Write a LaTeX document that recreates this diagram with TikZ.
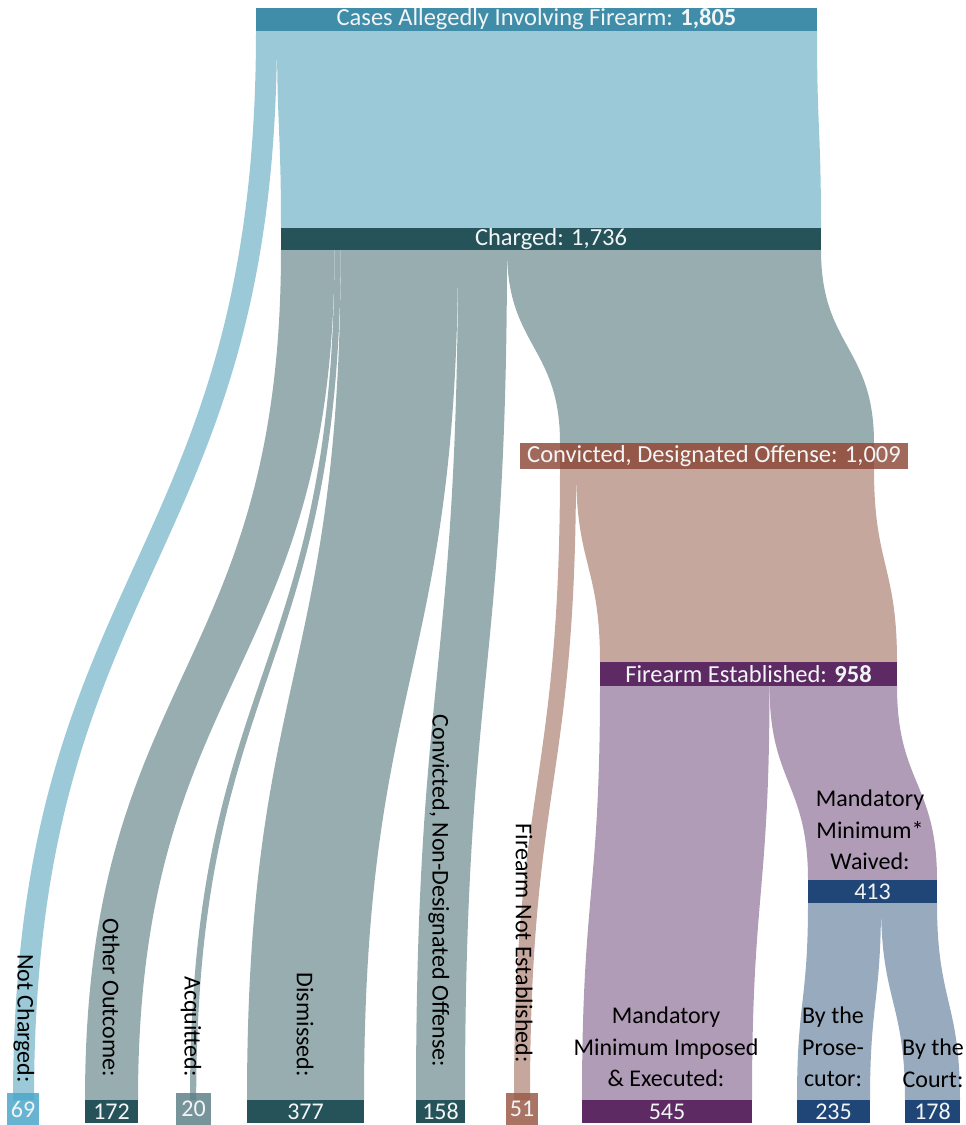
\documentclass[tikz,border=0pt]{standalone}
\usepackage{fontspec}
\setmainfont{Carlito}
\definecolor{topbar}{HTML}{3F8DA9}
\definecolor{lblue}{HTML}{9BC9D7}
\definecolor{chbar}{HTML}{255359}
\definecolor{gteal}{HTML}{97ADB0}
\definecolor{cdbar}{HTML}{8A4433}
\definecolor{pink}{HTML}{C5A79D}
\definecolor{febar}{HTML}{5D2A64}
\definecolor{purp}{HTML}{B09CB6}
\definecolor{navy}{HTML}{1F4677}
\definecolor{bgrey}{HTML}{98AABE}
\definecolor{nbox}{HTML}{4BA7CA}
\definecolor{abox}{HTML}{5F8189}
\definecolor{fbox}{HTML}{9A5C48}
\definecolor{bartext}{HTML}{F2F5F5}
\newcommand\rib[7]{\fill[#1] (#2,#4) .. controls (#2,{(#4+#7)/2}) and (#5,{(#4+#7)/2}) .. (#5,#7) -- (#6,#7) .. controls (#6,{(#4+#7)/2}) and (#3,{(#4+#7)/2}) .. (#3,#4) -- cycle;}
\tikzset{
  barbox/.style={inner sep=0pt, outer sep=0pt, text=bartext, font=\fontsize{24.5}{28}\selectfont},
  numbox/.style={inner sep=0pt, outer sep=0pt, text=bartext, font=\fontsize{24}{28}\selectfont},
  vlabel/.style={rotate=-90, anchor=east, inner sep=0pt, font=\fontsize{24}{28}\selectfont},
  mlabel/.style={align=center, inner sep=0pt, font=\fontsize{24}{31.5}\selectfont}
}
\begin{document}
\begin{tikzpicture}[x=1pt,y=-1pt]
\useasboundingbox (0,0) rectangle (966,1125);
% ribbons
\rib{lblue}{256}{277}{31}{13}{34}{1100}
\rib{lblue}{277}{817}{31}{281}{821}{228}
\rib{gteal}{281}{334.5}{250}{85}{138}{1100}
\rib{gteal}{334.5}{340.7}{250}{190}{196.2}{1100}
\rib{gteal}{340.7}{458}{250}{247}{364}{1100}
\rib{gteal}{458}{507}{250}{416}{465}{1100}
\rib{gteal}{507}{821}{250}{560}{874}{443}
\fill[pink] (560,443) rectangle (874,469);
\rib{pink}{560}{576}{469}{514}{530}{1100}
\rib{pink}{576}{874}{469}{600}{897}{662}
\rib{purp}{600}{769.5}{686}{582}{752}{1100}
\rib{purp}{769.5}{897}{686}{808}{937}{880}
\rib{bgrey}{808}{881}{903}{797}{870}{1100}
\rib{bgrey}{881}{937}{903}{905}{960}{1100}
% bars
\node[barbox, fill=topbar, minimum width=561pt, minimum height=23pt] (cases) at (536.5,19.5) {Cases Allegedly Involving Firearm: \textbf{1,805}};
\node[barbox, fill=chbar, minimum width=540pt, minimum height=22pt] (charged) at (551,239) {Charged: 1,736};
\node[barbox, fill=cdbar, fill opacity=0.8, text opacity=1, minimum width=388pt, minimum height=26pt] (cd) at (714,456) {Convicted, Designated Offense: 1,009};
\node[barbox, fill=febar, minimum width=297pt, minimum height=24pt] (fe) at (748.5,674) {Firearm Established: \textbf{958}};
\node[numbox, fill=navy, minimum width=129pt, minimum height=23pt] (waived) at (872.5,891.5) {413};
\node[numbox, fill=nbox, fill opacity=0.85, text opacity=1, minimum width=32pt, minimum height=32pt] (b69) at (23,1109) {69};
\node[numbox, fill=chbar, minimum width=53pt, minimum height=23pt] (b172) at (111.5,1111.5) {172};
\node[numbox, fill=abox, fill opacity=0.85, text opacity=1, minimum width=35pt, minimum height=32pt] (b20) at (193.5,1109) {20};
\node[numbox, fill=chbar, minimum width=117pt, minimum height=23pt] (b377) at (305.5,1111.5) {377};
\node[numbox, fill=chbar, minimum width=49pt, minimum height=23pt] (b158) at (440.5,1111.5) {158};
\node[numbox, fill=fbox, fill opacity=0.85, text opacity=1, minimum width=32pt, minimum height=32pt] (b51) at (522,1109) {51};
\node[numbox, fill=febar, minimum width=170pt, minimum height=23pt] (b545) at (667,1111.5) {545};
\node[numbox, fill=navy, minimum width=73pt, minimum height=23pt] (b235) at (833.5,1111.5) {235};
\node[numbox, fill=navy, minimum width=55pt, minimum height=23pt] (b178) at (932.5,1111.5) {178};
% labels
\node[vlabel] (lnc) at (24,1083) {Not Charged:};
\node[vlabel] (loo) at (111,1077) {Other Outcome:};
\node[vlabel] (lacq) at (191,1077) {Acquitted:};
\node[vlabel] (ldis) at (305,1077) {Dismissed:};
\node[vlabel] (lcnd) at (439,1067) {Convicted, Non-Designated Offense:};
\node[vlabel] (lfne) at (524,1063) {Firearm Not Established:};
\node[mlabel] (lwaived) at (870,830) {Mandatory\\Minimum*\\Waived:};
\node[mlabel] (lmmi) at (666,1047) {Mandatory\\Minimum Imposed\\\& Executed:};
\node[mlabel] (lpros) at (833,1047) {By the\\Prose-\\cutor:};
\node[mlabel] (lcourt) at (933,1063) {By the\\Court:};
\end{tikzpicture}
\end{document}
